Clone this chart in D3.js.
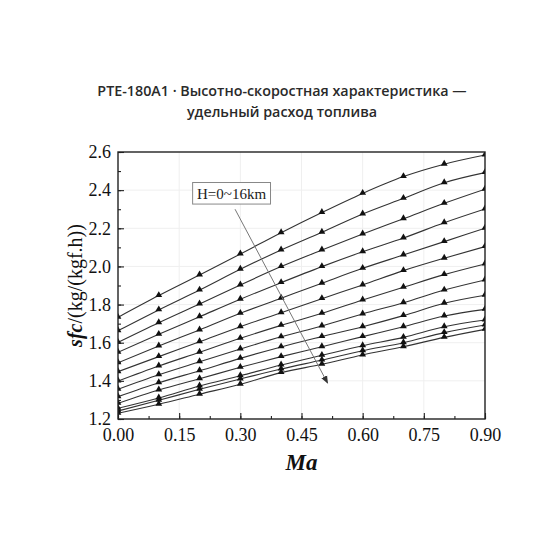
<!DOCTYPE html>
<html>
<head>
<meta charset="utf-8">
<script src="https://cdn.jsdelivr.net/npm/d3@7"></script>
<style>
  body { margin: 0; background: #fff; }
  svg { display: block; }
</style>
</head>
<body>
<div id="chart"></div>
<script>
// Mach numbers (x) and sfc per altitude curve, H = 0 .. 16 km (top to bottom)
var machs = [0, 0.1, 0.2, 0.3, 0.4, 0.5, 0.6, 0.7, 0.8, 0.9];
var sfcCurves = [
    [1.733, 1.847, 1.955, 2.065, 2.177, 2.283, 2.383, 2.471, 2.536, 2.584],
    [1.663, 1.772, 1.876, 1.985, 2.086, 2.179, 2.275, 2.357, 2.439, 2.492],
    [1.602, 1.705, 1.803, 1.903, 1.999, 2.086, 2.170, 2.250, 2.331, 2.405],
    [1.550, 1.644, 1.736, 1.828, 1.915, 1.999, 2.077, 2.149, 2.229, 2.301],
    [1.495, 1.583, 1.667, 1.754, 1.833, 1.912, 1.990, 2.060, 2.130, 2.200],
    [1.448, 1.527, 1.605, 1.684, 1.757, 1.831, 1.903, 1.978, 2.043, 2.104],
    [1.399, 1.478, 1.550, 1.623, 1.691, 1.754, 1.824, 1.891, 1.957, 2.013],
    [1.356, 1.432, 1.500, 1.567, 1.631, 1.688, 1.751, 1.810, 1.876, 1.929],
    [1.317, 1.390, 1.453, 1.518, 1.578, 1.632, 1.684, 1.742, 1.807, 1.849],
    [1.282, 1.352, 1.411, 1.471, 1.527, 1.579, 1.632, 1.684, 1.740, 1.775],
    [1.256, 1.310, 1.373, 1.427, 1.483, 1.534, 1.584, 1.628, 1.684, 1.719],
    [1.242, 1.298, 1.356, 1.410, 1.462, 1.509, 1.558, 1.600, 1.653, 1.693],
    [1.230, 1.277, 1.330, 1.382, 1.443, 1.487, 1.536, 1.579, 1.628, 1.670]
];
var xTicks = [0, 0.15, 0.30, 0.45, 0.60, 0.75, 0.90];
var yTicks = [1.2, 1.4, 1.6, 1.8, 2.0, 2.2, 2.4, 2.6];
var titleLines = ["PTE-180A1 · Высотно-скоростная характеристика —", "удельный расход топлива"];
var legendText = "H=0~16km";
// annotation box and arrow, in data units (Ma, sfc)
var legendBox = [0.183, 2.44, 0.374, 2.327];
var arrowFrom = [0.287, 2.30];
var arrowTo = [0.514, 1.388];

var width = 560;
var height = 560;
var margin = { top: 152, right: 75, bottom: 141, left: 118 };
var innerW = width - margin.left - margin.right;
var innerH = height - margin.top - margin.bottom;
var serif = "'Liberation Serif', 'Times New Roman', serif";

var svg = d3.select("#chart").append("svg")
    .attr("width", width)
    .attr("height", height);

var x = d3.scaleLinear().domain([0, 0.9]).range([0, innerW]);
var y = d3.scaleLinear().domain([1.2, 2.6]).range([innerH, 0]);

// title
svg.append("g")
    .selectAll("text")
    .data(titleLines)
    .enter().append("text")
    .attr("x", width / 2 + 2)
    .attr("y", function(d, i) { return 96 + i * 21; })
    .attr("text-anchor", "middle")
    .style("font-family", "'Open Sans', 'Noto Sans', sans-serif")
    .style("font-size", "14.3px")
    .style("font-weight", 600)
    .style("fill", "#2a2a2a")
    .text(function(d) { return d; });

var g = svg.append("g")
    .attr("transform", "translate(" + margin.left + "," + margin.top + ")");

g.append("clipPath")
    .attr("id", "plotClip")
    .append("rect")
    .attr("width", innerW)
    .attr("height", innerH);

// faint grid
g.append("g")
    .selectAll("line")
    .data(xTicks.slice(1, -1))
    .enter().append("line")
    .attr("x1", function(d) { return x(d); })
    .attr("x2", function(d) { return x(d); })
    .attr("y1", 0)
    .attr("y2", innerH)
    .attr("stroke", "#efefef");
g.append("g")
    .selectAll("line")
    .data(yTicks.slice(1, -1))
    .enter().append("line")
    .attr("y1", function(d) { return y(d); })
    .attr("y2", function(d) { return y(d); })
    .attr("x1", 0)
    .attr("x2", innerW)
    .attr("stroke", "#efefef");

// curves
var line = d3.line()
    .x(function(d, i) { return x(machs[i]); })
    .y(function(d) { return y(d); })
    .curve(d3.curveMonotoneX);

var plot = g.append("g").attr("clip-path", "url(#plotClip)");

plot.selectAll("path.curve")
    .data(sfcCurves)
    .enter().append("path")
    .attr("class", "curve")
    .attr("d", line)
    .attr("fill", "none")
    .attr("stroke", "#333")
    .attr("stroke-width", 1.1);

var tri = d3.symbol().type(d3.symbolTriangle).size(20);
var points = [];
sfcCurves.forEach(function(c) {
    c.forEach(function(v, i) { points.push({ m: machs[i], v: v }); });
});
plot.selectAll("path.pt")
    .data(points)
    .enter().append("path")
    .attr("class", "pt")
    .attr("d", tri)
    .attr("transform", function(d) { return "translate(" + x(d.m) + "," + (y(d.v) - 0.5) + ")"; })
    .attr("fill", "#111");

// axes (ticks point inward)
var xMinor = d3.range(0, 0.9001, 0.075);
var yMinor = d3.range(1.2, 2.6001, 0.1);

var xAxis = g.append("g")
    .attr("transform", "translate(0," + innerH + ")")
    .call(d3.axisBottom(x).tickValues(xMinor).tickSize(-3).tickFormat(""));
var xMajor = g.append("g")
    .attr("transform", "translate(0," + innerH + ")")
    .call(d3.axisBottom(x).tickValues(xTicks).tickSize(-6).tickPadding(12)
        .tickFormat(d3.format(".2f")));
var yAxis = g.append("g")
    .call(d3.axisLeft(y).tickValues(yMinor).tickSize(-3).tickFormat(""));
var yMajor = g.append("g")
    .call(d3.axisLeft(y).tickValues(yTicks).tickSize(-6).tickPadding(7)
        .tickFormat(d3.format(".1f")));

[xAxis, xMajor, yAxis, yMajor].forEach(function(a) {
    a.select(".domain").remove();
    a.selectAll(".tick line").attr("stroke", "#222").attr("stroke-width", 1.1);
    a.selectAll("text")
        .style("font-family", serif)
        .style("font-size", "18px")
        .style("fill", "#111");
});
xMajor.selectAll("text").attr("dy", "0.55em");

// frame
g.append("rect")
    .attr("width", innerW)
    .attr("height", innerH)
    .attr("fill", "none")
    .attr("stroke", "#222")
    .attr("stroke-width", 1.4);

// axis titles
svg.append("text")
    .attr("x", margin.left + innerW / 2)
    .attr("y", 470)
    .attr("text-anchor", "middle")
    .style("font-family", serif)
    .style("font-size", "23px")
    .style("font-weight", "bold")
    .style("font-style", "italic")
    .style("fill", "#111")
    .text("Ma");

var yTitle = svg.append("text")
    .attr("transform", "translate(82," + (margin.top + innerH / 2) + ") rotate(-90)")
    .attr("text-anchor", "middle")
    .style("font-family", serif)
    .style("font-size", "20px")
    .style("fill", "#111");
yTitle.append("tspan")
    .style("font-weight", "bold")
    .style("font-style", "italic")
    .text("sfc");
yTitle.append("tspan").text("/(kg/(kgf.h))");

// annotation: box with label and arrow
g.append("rect")
    .attr("x", x(legendBox[0]))
    .attr("y", y(legendBox[1]))
    .attr("width", x(legendBox[2]) - x(legendBox[0]))
    .attr("height", y(legendBox[3]) - y(legendBox[1]))
    .attr("fill", "#fff")
    .attr("stroke", "#888")
    .attr("stroke-width", 1);
g.append("text")
    .attr("x", (x(legendBox[0]) + x(legendBox[2])) / 2)
    .attr("y", (y(legendBox[1]) + y(legendBox[3])) / 2)
    .attr("dy", "0.35em")
    .attr("text-anchor", "middle")
    .style("font-family", serif)
    .style("font-size", "15px")
    .style("fill", "#222")
    .text(legendText);

svg.append("defs").append("marker")
    .attr("id", "arrowHead")
    .attr("viewBox", "0 0 10 10")
    .attr("refX", 9)
    .attr("refY", 5)
    .attr("markerWidth", 8)
    .attr("markerHeight", 8)
    .attr("markerUnits", "userSpaceOnUse")
    .attr("orient", "auto")
    .append("path")
    .attr("d", "M0,1 L10,5 L0,9 Z")
    .attr("fill", "#333");

g.append("line")
    .attr("x1", x(arrowFrom[0]))
    .attr("y1", y(arrowFrom[1]))
    .attr("x2", x(arrowTo[0]))
    .attr("y2", y(arrowTo[1]))
    .attr("stroke", "#777")
    .attr("stroke-width", 1)
    .attr("marker-end", "url(#arrowHead)");
</script>
</body>
</html>
